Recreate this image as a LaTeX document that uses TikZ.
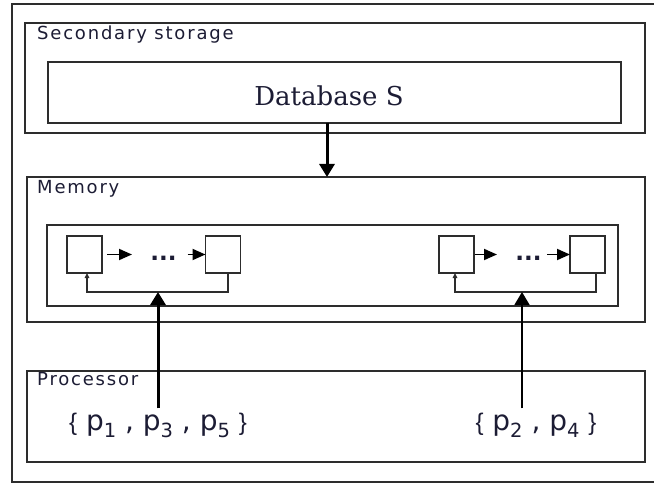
\documentclass[tikz,border=0pt]{standalone}
\usepackage{fontspec}
\setmainfont{DejaVu Serif}
\newfontfamily\lblfont[LetterSpace=10]{DejaVu Sans}
\newfontfamily\setsfont{DejaVu Sans}
\newfontfamily\bracefont{Liberation Sans}
\usetikzlibrary{arrows.meta}

\definecolor{ink}{RGB}{28,28,52}
\definecolor{edge}{RGB}{45,45,45}

% subscript index of a process name
\newcommand{\pidx}[1]{\raisebox{-7pt}{\fontsize{19.5}{19.5}\selectfont #1}}
% thin set braces
\newcommand{\lbr}{{\bracefont\fontsize{24}{24}\selectfont\{}}
\newcommand{\rbr}{{\bracefont\fontsize{24}{24}\selectfont\}}}

\tikzset{
  box/.style={draw=edge, line width=1.6pt, rectangle, inner sep=0pt, outer sep=0pt},
  cell/.style={box, minimum width=35pt, minimum height=37pt},
  lbl/.style={anchor=base west, inner sep=0pt, text=ink,
              font=\lblfont\fontsize{18}{20}\selectfont},
  pset/.style={anchor=base, inner sep=0pt, text=ink,
               font=\setsfont\fontsize{28}{30}\selectfont},
  dotrow/.style={anchor=base, inner sep=0pt, text=ink,
                 font=\setsfont\bfseries\fontsize{23}{25}\selectfont},
  bigarrow/.style={draw=black, line width=3pt, -{Triangle[length=13pt,width=15pt]}},
  thinarrow/.style={draw=black, line width=1.5pt, -{Triangle[length=13pt,width=15pt]}},
  linkarrow/.style={draw=black, line width=1.8pt, -{Triangle[length=13pt,width=11pt]}},
  buswire/.style={draw=edge, line width=1.5pt, -{Triangle[length=5pt,width=4.5pt]}},
}

\begin{document}
\begin{tikzpicture}[x=1pt, y=-1pt]
\useasboundingbox (0,0) rectangle (654,484);

% outer frame (runs past the right border)
\draw[draw=edge, line width=1.6pt] (660,4) -- (12,4) -- (12,482) -- (660,482);

% secondary storage
\node[box, minimum width=620pt, minimum height=110pt] (sec) at (335,78) {};
\node[lbl] (secl) at (37,40) {Secondary storage};
\node[box, minimum width=573pt, minimum height=61pt] (db) at (334.5,92.5) {};
\node[anchor=base, inner sep=0pt, text=ink, font=\fontsize{26}{30}\selectfont] (dbl) at (329,105.5) {Database S};

% memory
\node[box, minimum width=618pt, minimum height=145pt] (mem) at (336,249.5) {};
\node[lbl] (meml) at (37,194) {Memory};
\node[box, minimum width=571pt, minimum height=81pt] (list) at (332.5,265.5) {};

\node[cell] (b1) at (84.5,254.5) {};
\node[cell] (b2) at (223,254.5) {};
\node[cell] (b3) at (456.5,254.5) {};
\node[cell] (b4) at (587.5,254.5) {};
\node[dotrow] (d1) at (163.5,261) {...};
\node[dotrow] (d2) at (528.5,261) {...};

% processor
\node[box, minimum width=618pt, minimum height=91pt] (proc) at (336,416.5) {};
\node[lbl] (procl) at (37,385) {Processor};
\node[pset] (ps1) at (158,430) {\lbr{} p\pidx{1} , p\pidx{3} , p\pidx{5} \rbr};
\node[pset] (ps2) at (536,430) {\lbr{} p\pidx{2} , p\pidx{4} \rbr};

\coordinate (dbx) at (327,0);
\coordinate (bus) at (0,292);

% database loaded into memory
\draw[bigarrow] (db.south -| dbx) -- (mem.north -| dbx);

% left list
\draw[linkarrow] ([xshift=5pt]b1.east) -- ++(25,0);
\draw[linkarrow] ([xshift=-18pt]b2.west) -- (b2.west);
\draw[buswire] ([xshift=5pt]b2.south) -- ([xshift=5pt]b2.south |- bus)
  -- ([xshift=2.5pt]b1.south |- bus) -- ([xshift=2.5pt]b1.south);

% right list
\draw[linkarrow] ([xshift=1pt]b3.east) -- ++(22,0);
\draw[linkarrow] ([xshift=-23pt]b4.west) -- (b4.west);
\draw[buswire] ([xshift=8.5pt]b4.south) -- ([xshift=8.5pt]b4.south |- bus)
  -- ([xshift=-1.5pt]b3.south |- bus) -- ([xshift=-1.5pt]b3.south);

% processes attached to the lists
\draw[bigarrow] ([yshift=4pt]ps1.north) -- (ps1.north |- bus);
\draw[thinarrow] ([xshift=-14pt,yshift=4pt]ps2.north) -- ([xshift=-14pt]ps2.north |- bus);
\end{tikzpicture}
\end{document}
